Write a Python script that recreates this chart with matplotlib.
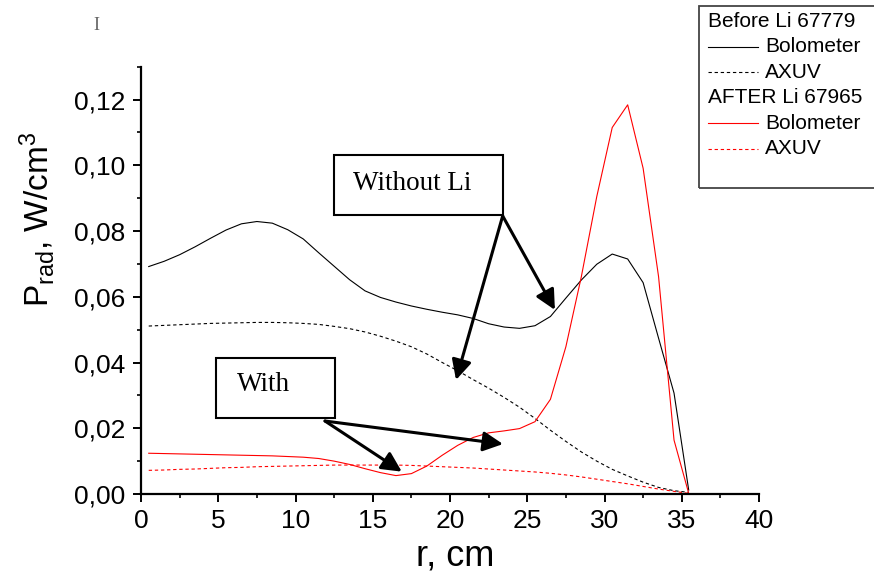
import matplotlib
matplotlib.use("Agg")
import matplotlib.pyplot as plt
from matplotlib.lines import Line2D
from matplotlib.patches import Rectangle
from matplotlib.ticker import FuncFormatter, MultipleLocator
import numpy as np

plt.rcParams['font.family'] = ['Liberation Sans', 'DejaVu Sans']
plt.rcParams['mathtext.default'] = 'regular'

# radius, cm
r = [0.5, 1.5, 2.5, 3.5, 4.5, 5.5, 6.5, 7.5, 8.5, 9.5, 10.5, 11.5,
     12.5, 13.5, 14.5, 15.5, 16.5, 17.5, 18.5, 19.5, 20.5, 21.5, 22.5, 23.5,
     24.5, 25.5, 26.5, 27.5, 28.5, 29.5, 30.5, 31.5, 32.5, 33.5, 34.5, 35.45]

# before Li, shot 67779
bolo_before = [0.0692, 0.0708, 0.0728, 0.0752, 0.0778, 0.0803, 0.0822, 0.0829,
               0.0824, 0.0804, 0.0776, 0.0734, 0.0693, 0.0652, 0.0618, 0.0598,
               0.0584, 0.0572, 0.0562, 0.0553, 0.0545, 0.0534, 0.0518, 0.0508,
               0.0504, 0.0512, 0.0540, 0.0596, 0.0651, 0.0699, 0.0730, 0.0715,
               0.0643, 0.0474, 0.0307, 0.0012]
axuv_before = [0.0511, 0.0513, 0.0515, 0.0517, 0.0519, 0.0520, 0.0521, 0.0522,
               0.0522, 0.0521, 0.0519, 0.0516, 0.0510, 0.0503, 0.0493, 0.0480,
               0.0465, 0.0448, 0.0426, 0.0400, 0.0375, 0.0348, 0.0322, 0.0294,
               0.0264, 0.0230, 0.0194, 0.0160, 0.0128, 0.0100, 0.0075, 0.0055,
               0.0036, 0.0020, 0.0010, 0.0005]

# after Li, shot 67965
bolo_after = [0.0124, 0.0123, 0.0122, 0.0121, 0.0120, 0.0119, 0.0118, 0.0117,
              0.0116, 0.0114, 0.0112, 0.0108, 0.0100, 0.0090, 0.0077, 0.0065,
              0.0056, 0.0062, 0.0085, 0.0118, 0.0148, 0.0172, 0.0186, 0.0192,
              0.0199, 0.0220, 0.0288, 0.0448, 0.0661, 0.0905, 0.1115, 0.1184,
              0.0991, 0.0661, 0.0164, 0.0002]
axuv_after = [0.0072, 0.0073, 0.0075, 0.0076, 0.0078, 0.0080, 0.0081, 0.0083,
              0.0084, 0.0085, 0.0086, 0.0087, 0.0088, 0.0088, 0.0088, 0.0088,
              0.0088, 0.0087, 0.0085, 0.0083, 0.0081, 0.0079, 0.0076, 0.0073,
              0.0070, 0.0067, 0.0063, 0.0058, 0.0052, 0.0045, 0.0038, 0.0031,
              0.0023, 0.0015, 0.0008, 0.0002]

W, H = 874, 573
fig = plt.figure(figsize=(W / 100, H / 100), dpi=100)
ax = fig.add_axes([141 / W, 1 - 494 / H, 618 / W, 427.3 / H])

dash = (0, (3, 2.5))
ax.plot(r, bolo_before, color='black', lw=0.8)
ax.plot(r, axuv_before, color='black', lw=0.8, linestyle=dash)
ax.plot(r, bolo_after, color='red', lw=0.8)
ax.plot(r, axuv_after, color='red', lw=0.8, linestyle=dash)

ax.set_xlim(0, 40)
ax.set_ylim(0, 0.13)
ax.xaxis.set_major_locator(MultipleLocator(5))
ax.xaxis.set_minor_locator(MultipleLocator(2.5))
ax.yaxis.set_major_locator(MultipleLocator(0.02))
ax.yaxis.set_minor_locator(MultipleLocator(0.01))
ax.yaxis.set_major_formatter(FuncFormatter(lambda v, p: f"{v:.2f}".replace('.', ',')))

for s in ['top', 'right']:
    ax.spines[s].set_visible(False)
for s in ['left', 'bottom']:
    ax.spines[s].set_linewidth(1.6)
ax.tick_params(which='major', direction='out', length=6, width=1.4, labelsize=19, pad=5)
ax.tick_params(which='minor', direction='out', length=3, width=1.2)

fig.text(455 / W, 1 - 556 / H, 'r, cm', fontsize=26, ha='center', va='center')
fig.text(37 / W, 1 - 219 / H, r'P$_{rad}$, W/cm$^{3}$', fontsize=24,
         rotation=90, ha='center', va='center')

# text boxes and arrows
ax.add_patch(Rectangle((12.49, 0.0848), 10.92, 0.0182, fill=False, lw=1.5, ec='black'))
ax.text(17.55, 0.0945, 'Without Li', family='Liberation Serif', fontsize=19.5,
        ha='center', va='center')
ax.add_patch(Rectangle((4.86, 0.0231), 7.70, 0.0184, fill=False, lw=1.5, ec='black'))
ax.text(7.90, 0.0332, 'With', family='Liberation Serif', fontsize=19.5,
        ha='center', va='center')

arrow = dict(arrowstyle='-|>,head_length=0.6,head_width=0.3', lw=2.2, color='black',
             mutation_scale=20, shrinkA=0, shrinkB=0)
ax.annotate('', xy=(26.79, 0.0560), xytext=(23.41, 0.0846), arrowprops=arrow)
ax.annotate('', xy=(20.39, 0.0347), xytext=(23.41, 0.0846), arrowprops=arrow)
ax.annotate('', xy=(16.88, 0.0068), xytext=(11.91, 0.0222), arrowprops=arrow)
ax.annotate('', xy=(23.43, 0.0152), xytext=(11.91, 0.0222), arrowprops=arrow)

# legend box
fig.patches.append(Rectangle((699 / W, 1 - 188 / H), 180 / W, 182 / H, fill=False,
                             lw=1.3, ec='#444444', transform=fig.transFigure, figure=fig))
rows = [('Before Li 67779', None, None),
        ('Bolometer', 'black', '-'),
        ('AXUV', 'black', dash),
        ('AFTER Li 67965', None, None),
        ('Bolometer', 'red', '-'),
        ('AXUV', 'red', dash)]
for i, (label, col, ls) in enumerate(rows):
    yc = 1 - (21.5 + 25.4 * i) / H
    if col is None:
        fig.text(708 / W, yc, label, fontsize=15, ha='left', va='center')
    else:
        fig.lines.append(Line2D([708 / W, 758 / W], [yc, yc], color=col, lw=0.8,
                                linestyle=ls, transform=fig.transFigure, figure=fig))
        fig.text(765 / W, yc, label, fontsize=15, ha='left', va='center')

fig.text(96 / W, 1 - 25 / H, 'I', family='Liberation Serif', fontsize=13,
         color='#666666', ha='center', va='center')

fig.savefig('out.png', dpi=100)
